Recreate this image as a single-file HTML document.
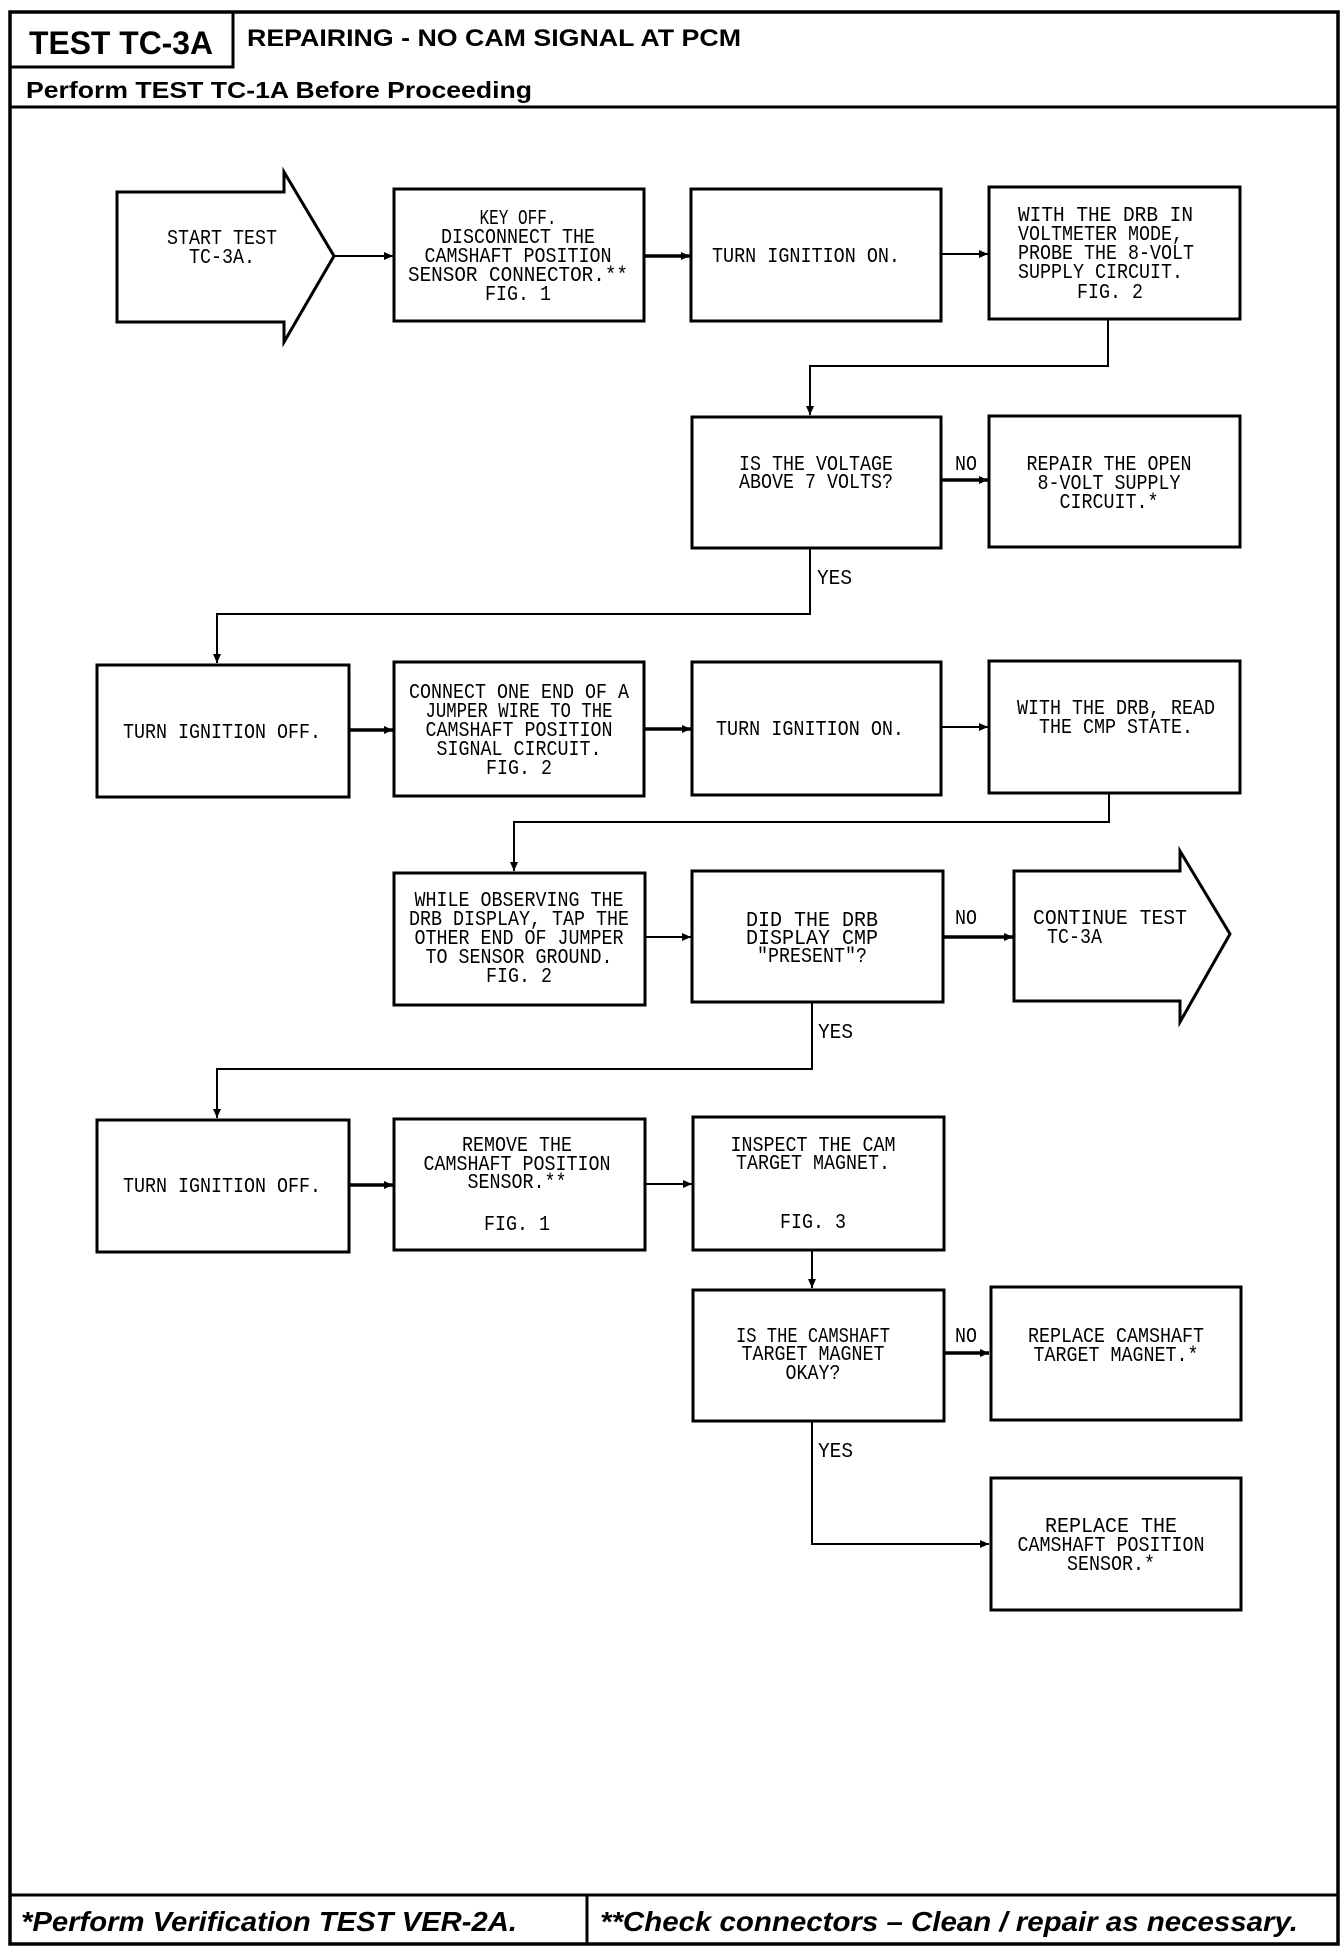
<!DOCTYPE html>
<html><head><meta charset="utf-8"><style>
html,body{margin:0;padding:0;background:#fff;}
svg{display:block;}
.t{font-family:"Liberation Mono",monospace;font-size:21px;fill:#000;text-anchor:middle;}
.tl{font-family:"Liberation Mono",monospace;font-size:21px;fill:#000;}
.b{fill:none;stroke:#000;stroke-width:3;}
.l{fill:none;stroke:#000;stroke-width:2;}
.lt{fill:none;stroke:#000;stroke-width:3.5;}
.h{font-family:"Liberation Sans",sans-serif;font-weight:bold;fill:#000;}
.f{font-family:"Liberation Sans",sans-serif;font-weight:bold;font-style:italic;fill:#000;font-size:28px;}
</style></head><body>
<svg width="1344" height="1952" viewBox="0 0 1344 1952" xmlns="http://www.w3.org/2000/svg">
<defs>
<marker id="a" markerWidth="10" markerHeight="10" refX="9" refY="5" orient="auto" markerUnits="userSpaceOnUse">
<path d="M0,1 L9,5 L0,9 Z" fill="#000"/></marker>
</defs>
<!-- frame -->
<rect x="10" y="12" width="1328" height="1932" fill="none" stroke="#000" stroke-width="3.5"/>
<polyline points="10,67 233,67 233,12" class="b"/>
<line x1="10" y1="107" x2="1338" y2="107" stroke="#000" stroke-width="3"/>
<line x1="10" y1="1895" x2="1338" y2="1895" stroke="#000" stroke-width="3"/>
<line x1="587" y1="1895" x2="587" y2="1944" stroke="#000" stroke-width="3"/>
<text class="h" x="29" y="54" font-size="32" textLength="184" lengthAdjust="spacingAndGlyphs">TEST TC-3A</text>
<text class="h" x="247" y="46" font-size="24" textLength="494" lengthAdjust="spacingAndGlyphs">REPAIRING - NO CAM SIGNAL AT PCM</text>
<text class="h" x="26" y="98" font-size="23" textLength="506" lengthAdjust="spacingAndGlyphs">Perform TEST TC-1A Before Proceeding</text>
<text class="f" x="21" y="1931" textLength="496" lengthAdjust="spacingAndGlyphs">*Perform Verification TEST VER-2A.</text>
<text class="f" x="600" y="1931" textLength="698" lengthAdjust="spacingAndGlyphs">**Check connectors – Clean / repair as necessary.</text>

<!-- row 1 -->
<polygon points="117,192 284,192 284,172 334,256 284,342 284,322 117,322" class="b"/>
<text class="t" x="222" y="244" textLength="110" lengthAdjust="spacingAndGlyphs">START TEST</text>
<text class="t" x="222" y="263" textLength="66" lengthAdjust="spacingAndGlyphs">TC-3A.</text>
<line x1="334" y1="256" x2="393" y2="256" class="l" marker-end="url(#a)"/>

<rect x="394" y="189" width="250" height="132" class="b"/>
<text class="t" x="518" y="224" textLength="77" lengthAdjust="spacingAndGlyphs">KEY OFF.</text>
<text class="t" x="518" y="243" textLength="154" lengthAdjust="spacingAndGlyphs">DISCONNECT THE</text>
<text class="t" x="518" y="262" textLength="187" lengthAdjust="spacingAndGlyphs">CAMSHAFT POSITION</text>
<text class="t" x="518" y="281" textLength="220" lengthAdjust="spacingAndGlyphs">SENSOR CONNECTOR.**</text>
<text class="t" x="518" y="300" textLength="66" lengthAdjust="spacingAndGlyphs">FIG. 1</text>
<line x1="644" y1="256" x2="690" y2="256" class="lt" marker-end="url(#a)"/>

<rect x="691" y="189" width="250" height="132" class="b"/>
<text class="t" x="806" y="262" textLength="188" lengthAdjust="spacingAndGlyphs">TURN IGNITION ON.</text>
<line x1="941" y1="254" x2="988" y2="254" class="l" marker-end="url(#a)"/>

<rect x="989" y="187" width="251" height="132" class="b"/>
<text class="tl" x="1018" y="221" textLength="175" lengthAdjust="spacingAndGlyphs">WITH THE DRB IN</text>
<text class="tl" x="1018" y="240" textLength="165" lengthAdjust="spacingAndGlyphs">VOLTMETER MODE,</text>
<text class="tl" x="1018" y="259" textLength="176" lengthAdjust="spacingAndGlyphs">PROBE THE 8-VOLT</text>
<text class="tl" x="1018" y="278" textLength="165" lengthAdjust="spacingAndGlyphs">SUPPLY CIRCUIT.</text>
<text class="t" x="1110" y="298" textLength="66" lengthAdjust="spacingAndGlyphs">FIG. 2</text>
<polyline points="1108,319 1108,366 810,366 810,415" class="l" marker-end="url(#a)"/>

<!-- row 2 -->
<rect x="692" y="417" width="249" height="131" class="b"/>
<text class="t" x="816" y="470" textLength="154" lengthAdjust="spacingAndGlyphs">IS THE VOLTAGE</text>
<text class="t" x="816" y="488" textLength="154" lengthAdjust="spacingAndGlyphs">ABOVE 7 VOLTS?</text>
<text class="tl" x="955" y="470" textLength="22" lengthAdjust="spacingAndGlyphs">NO</text>
<line x1="941" y1="480" x2="988" y2="480" class="lt" marker-end="url(#a)"/>
<rect x="989" y="416" width="251" height="131" class="b"/>
<text class="t" x="1109" y="470" textLength="165" lengthAdjust="spacingAndGlyphs">REPAIR THE OPEN</text>
<text class="t" x="1109" y="489" textLength="143" lengthAdjust="spacingAndGlyphs">8-VOLT SUPPLY</text>
<text class="t" x="1109" y="508" textLength="99" lengthAdjust="spacingAndGlyphs">CIRCUIT.*</text>
<text class="tl" x="817" y="584" textLength="35" lengthAdjust="spacingAndGlyphs">YES</text>
<polyline points="810,548 810,614 217,614 217,663" class="l" marker-end="url(#a)"/>

<!-- row 3 -->
<rect x="97" y="665" width="252" height="132" class="b"/>
<text class="t" x="222" y="738" textLength="198" lengthAdjust="spacingAndGlyphs">TURN IGNITION OFF.</text>
<line x1="349" y1="730" x2="393" y2="730" class="lt" marker-end="url(#a)"/>
<rect x="394" y="662" width="250" height="134" class="b"/>
<text class="t" x="519" y="698" textLength="220" lengthAdjust="spacingAndGlyphs">CONNECT ONE END OF A</text>
<text class="t" x="519" y="717" textLength="187" lengthAdjust="spacingAndGlyphs">JUMPER WIRE TO THE</text>
<text class="t" x="519" y="736" textLength="187" lengthAdjust="spacingAndGlyphs">CAMSHAFT POSITION</text>
<text class="t" x="519" y="755" textLength="165" lengthAdjust="spacingAndGlyphs">SIGNAL CIRCUIT.</text>
<text class="t" x="519" y="774" textLength="66" lengthAdjust="spacingAndGlyphs">FIG. 2</text>
<line x1="644" y1="729" x2="691" y2="729" class="lt" marker-end="url(#a)"/>
<rect x="692" y="662" width="249" height="133" class="b"/>
<text class="t" x="810" y="735" textLength="188" lengthAdjust="spacingAndGlyphs">TURN IGNITION ON.</text>
<line x1="941" y1="727" x2="988" y2="727" class="l" marker-end="url(#a)"/>
<rect x="989" y="661" width="251" height="132" class="b"/>
<text class="t" x="1116" y="714" textLength="198" lengthAdjust="spacingAndGlyphs">WITH THE DRB, READ</text>
<text class="t" x="1116" y="733" textLength="154" lengthAdjust="spacingAndGlyphs">THE CMP STATE.</text>
<polyline points="1109,793 1109,822 514,822 514,871" class="l" marker-end="url(#a)"/>

<!-- row 4 -->
<rect x="394" y="873" width="251" height="132" class="b"/>
<text class="t" x="519" y="906" textLength="209" lengthAdjust="spacingAndGlyphs">WHILE OBSERVING THE</text>
<text class="t" x="519" y="925" textLength="220" lengthAdjust="spacingAndGlyphs">DRB DISPLAY, TAP THE</text>
<text class="t" x="519" y="944" textLength="209" lengthAdjust="spacingAndGlyphs">OTHER END OF JUMPER</text>
<text class="t" x="519" y="963" textLength="187" lengthAdjust="spacingAndGlyphs">TO SENSOR GROUND.</text>
<text class="t" x="519" y="982" textLength="66" lengthAdjust="spacingAndGlyphs">FIG. 2</text>
<line x1="645" y1="937" x2="691" y2="937" class="l" marker-end="url(#a)"/>
<rect x="692" y="871" width="251" height="131" class="b"/>
<text class="t" x="812" y="926" textLength="132" lengthAdjust="spacingAndGlyphs">DID THE DRB</text>
<text class="t" x="812" y="944" textLength="132" lengthAdjust="spacingAndGlyphs">DISPLAY CMP</text>
<text class="t" x="812" y="962" textLength="110" lengthAdjust="spacingAndGlyphs">"PRESENT"?</text>
<text class="tl" x="955" y="924" textLength="22" lengthAdjust="spacingAndGlyphs">NO</text>
<line x1="943" y1="937" x2="1013" y2="937" class="lt" marker-end="url(#a)"/>
<polygon points="1014,871 1180,871 1180,851 1230,934 1180,1022 1180,1001 1014,1001" class="b"/>
<text class="t" x="1110" y="924" textLength="154" lengthAdjust="spacingAndGlyphs">CONTINUE TEST</text>
<text class="tl" x="1047" y="943" textLength="55" lengthAdjust="spacingAndGlyphs">TC-3A</text>
<text class="tl" x="818" y="1038" textLength="35" lengthAdjust="spacingAndGlyphs">YES</text>
<polyline points="812,1002 812,1069 217,1069 217,1118" class="l" marker-end="url(#a)"/>

<!-- row 5 -->
<rect x="97" y="1120" width="252" height="132" class="b"/>
<text class="t" x="222" y="1192" textLength="198" lengthAdjust="spacingAndGlyphs">TURN IGNITION OFF.</text>
<line x1="349" y1="1185" x2="393" y2="1185" class="lt" marker-end="url(#a)"/>
<rect x="394" y="1119" width="251" height="131" class="b"/>
<text class="t" x="517" y="1151" textLength="110" lengthAdjust="spacingAndGlyphs">REMOVE THE</text>
<text class="t" x="517" y="1170" textLength="187" lengthAdjust="spacingAndGlyphs">CAMSHAFT POSITION</text>
<text class="t" x="517" y="1188" textLength="99" lengthAdjust="spacingAndGlyphs">SENSOR.**</text>
<text class="t" x="517" y="1230" textLength="66" lengthAdjust="spacingAndGlyphs">FIG. 1</text>
<line x1="645" y1="1184" x2="692" y2="1184" class="l" marker-end="url(#a)"/>
<rect x="693" y="1117" width="251" height="133" class="b"/>
<text class="t" x="813" y="1151" textLength="165" lengthAdjust="spacingAndGlyphs">INSPECT THE CAM</text>
<text class="t" x="813" y="1169" textLength="154" lengthAdjust="spacingAndGlyphs">TARGET MAGNET.</text>
<text class="t" x="813" y="1228" textLength="66" lengthAdjust="spacingAndGlyphs">FIG. 3</text>
<line x1="812" y1="1250" x2="812" y2="1288" class="l" marker-end="url(#a)"/>

<!-- row 6 -->
<rect x="693" y="1290" width="251" height="131" class="b"/>
<text class="t" x="813" y="1342" textLength="154" lengthAdjust="spacingAndGlyphs">IS THE CAMSHAFT</text>
<text class="t" x="813" y="1360" textLength="143" lengthAdjust="spacingAndGlyphs">TARGET MAGNET</text>
<text class="t" x="813" y="1379" textLength="55" lengthAdjust="spacingAndGlyphs">OKAY?</text>
<text class="tl" x="955" y="1342" textLength="22" lengthAdjust="spacingAndGlyphs">NO</text>
<line x1="944" y1="1353" x2="989" y2="1353" class="lt" marker-end="url(#a)"/>
<rect x="991" y="1287" width="250" height="133" class="b"/>
<text class="t" x="1116" y="1342" textLength="176" lengthAdjust="spacingAndGlyphs">REPLACE CAMSHAFT</text>
<text class="t" x="1116" y="1361" textLength="165" lengthAdjust="spacingAndGlyphs">TARGET MAGNET.*</text>
<text class="tl" x="818" y="1457" textLength="35" lengthAdjust="spacingAndGlyphs">YES</text>
<polyline points="812,1421 812,1544 989,1544" class="l" marker-end="url(#a)"/>
<rect x="991" y="1478" width="250" height="132" class="b"/>
<text class="t" x="1111" y="1532" textLength="132" lengthAdjust="spacingAndGlyphs">REPLACE THE</text>
<text class="t" x="1111" y="1551" textLength="187" lengthAdjust="spacingAndGlyphs">CAMSHAFT POSITION</text>
<text class="t" x="1111" y="1570" textLength="88" lengthAdjust="spacingAndGlyphs">SENSOR.*</text>
</svg>
</body></html>
